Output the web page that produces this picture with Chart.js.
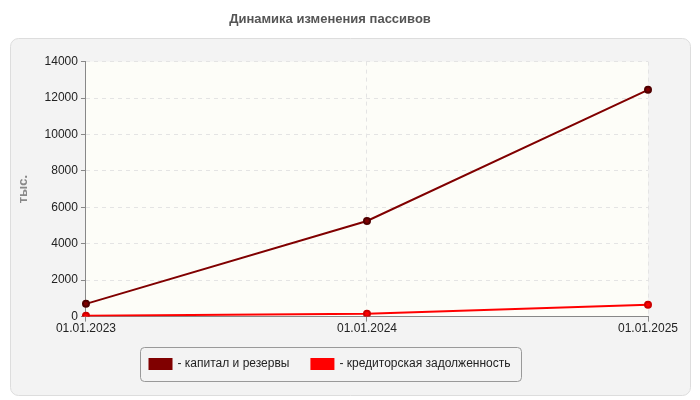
<!DOCTYPE html>
<html><head><meta charset="utf-8">
<script src="https://cdn.jsdelivr.net/npm/chart.js@4"></script>
<style>body{margin:0;background:#fff}#wrap{width:700px;height:400px}</style>
</head><body><div id="wrap"><canvas id="c"></canvas></div>
<script>
const dates = ['01.01.2023', '01.01.2024', '01.01.2025'];
const capital = [700, 5250, 12450];
const payables = [50, 150, 650];
const yTicks = [0, 2000, 4000, 6000, 8000, 10000, 12000, 14000];

// grey rounded panel, plot background and legend frame
const decor = {
    id: 'decor',
    beforeDraw(chart) {
        const ctx = chart.ctx, a = chart.chartArea;
        ctx.save();
        ctx.fillStyle = '#f3f3f3';
        ctx.strokeStyle = '#dddddd';
        ctx.beginPath();
        ctx.roundRect(10.5, 38.5, 680, 357, 8);
        ctx.fill(); ctx.stroke();
        ctx.fillStyle = '#fdfdf8';
        ctx.fillRect(a.left, a.top, a.right - a.left, a.bottom - a.top);
        ctx.restore();
    },
    afterDraw(chart) {
        const boxes = chart.legend.legendHitBoxes, ctx = chart.ctx;
        if (!boxes || !boxes.length) return;
        const x0 = Math.min(...boxes.map(b => b.left)) - 10;
        const x1 = Math.max(...boxes.map(b => b.left + b.width)) + 10;
        const y0 = Math.min(...boxes.map(b => b.top)) - 11;
        const y1 = Math.max(...boxes.map(b => b.top + b.height)) + 11;
        ctx.save();
        ctx.strokeStyle = '#999';
        ctx.beginPath();
        ctx.roundRect(Math.round(x0) + 0.5, Math.round(y0) + 0.5, Math.round(x1 - x0), Math.round(y1 - y0), 4);
        ctx.stroke();
        ctx.restore();
    }
};

new Chart(document.getElementById('c'), {
    type: 'line',
    data: {
        labels: dates,
        datasets: [
            { label: '- капитал и резервы', data: capital, borderColor: '#800000', backgroundColor: '#800000',
              borderWidth: 2, pointRadius: 3, pointBorderColor: '#500000' },
            { label: '- кредиторская задолженность', data: payables, borderColor: '#ff0000', backgroundColor: '#ff0000',
              borderWidth: 2, pointRadius: 3, pointBorderColor: '#cc0000' }
        ]
    },
    options: {
        responsive: true,
        maintainAspectRatio: false,
        animation: false,
        layout: { padding: { left: 12, right: 52, top: 0, bottom: 20 } },
        plugins: {
            title: {
                display: true, text: 'Динамика изменения пассивов',
                color: '#555', font: { family: 'Arial', size: 13, weight: 'bold' },
                padding: { top: 12, bottom: 34 }
            },
            legend: {
                position: 'bottom',
                labels: { color: '#222', font: { family: 'Arial', size: 12 }, boxWidth: 22, boxHeight: 10, padding: 22 }
            },
            tooltip: { enabled: false }
        },
        scales: {
            x: {
                offset: false,
                grid: { color: '#e4e4e4', tickColor: '#888', tickLength: 5, drawOnChartArea: true },
                border: { color: '#888', dash: [4, 4] },
                ticks: { color: '#222', font: { family: 'Arial', size: 12 }, maxRotation: 0, padding: 0 }
            },
            y: {
                min: 0, max: 14000,
                afterBuildTicks(s) { s.ticks = yTicks.map(v => ({ value: v })); },
                grid: { color: '#e4e4e4', tickColor: '#888', tickLength: 5 },
                border: { color: '#888', dash: [4, 4] },
                ticks: { color: '#222', font: { family: 'Arial', size: 12 }, callback: v => String(v) },
                title: { display: true, text: 'тыс.', color: '#888', font: { family: 'Arial', size: 13, weight: 'bold' }, padding: { bottom: 10 } }
            }
        }
    },
    plugins: [decor]
});
</script></body></html>
